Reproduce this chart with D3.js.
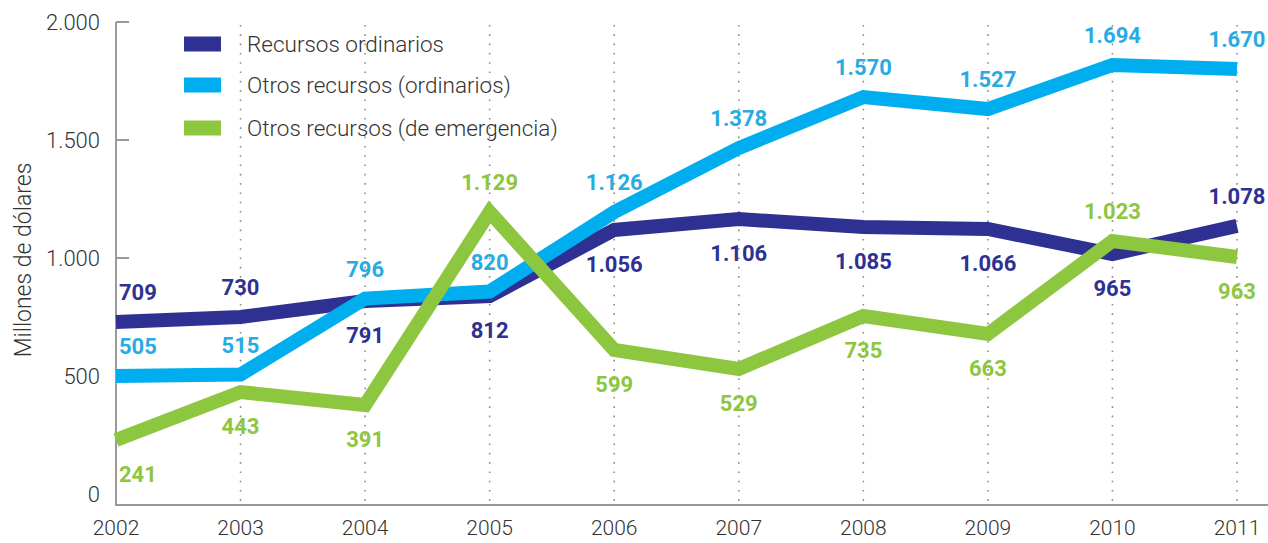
<!DOCTYPE html>
<html>
<head>
<meta charset="utf-8">
<script src="https://cdn.jsdelivr.net/npm/d3@7"></script>
<style>
  body { margin: 0; background: #fff; }
  svg { display: block; font-family: Roboto, "Noto Sans", sans-serif; }
</style>
</head>
<body>
<script>
// years on the x axis
var years = [2002, 2003, 2004, 2005, 2006, 2007, 2008, 2009, 2010, 2011];
var yTicks = [0, 500, 1000, 1500, 2000];

// printed values (labels)
var ordinarios = [709, 730, 791, 812, 1056, 1106, 1085, 1066, 965, 1078];
var otrosOrdinarios = [505, 515, 796, 820, 1126, 1378, 1570, 1527, 1694, 1670];
var otrosEmergencia = [241, 443, 391, 1129, 599, 529, 735, 663, 1023, 963];

// values as the lines are drawn in the picture (they don't follow the labels exactly)
var ordinariosLine = [729, 750, 818, 839, 1119, 1165, 1131, 1123, 1017, 1136];
var otrosOrdinariosLine = [500, 506, 828, 858, 1195, 1466, 1682, 1631, 1818, 1801];
var otrosEmergenciaLine = [229, 432, 377, 1195, 610, 530, 754, 678, 1072, 1004];

// which side of the line each label sits on
var ordinariosSide = ["up", "up", "down", "down", "down", "down", "down", "down", "down", "up"];
var otrosOrdinariosSide = ["up", "up", "up", "up", "up", "up", "up", "up", "up", "up"];
var otrosEmergenciaSide = ["down", "down", "down", "up", "down", "down", "down", "down", "up", "down"];

var seriesNames = ["Recursos ordinarios", "Otros recursos (ordinarios)", "Otros recursos (de emergencia)"];

var width = 1268,
    height = 543;

var series = [
    { name: seriesNames[0], line: ordinariosLine, labels: ordinarios, side: ordinariosSide, color: "#2e3192", text: "#2e3192" },
    { name: seriesNames[1], line: otrosOrdinariosLine, labels: otrosOrdinarios, side: otrosOrdinariosSide, color: "#00aeef", text: "#29abe2" },
    { name: seriesNames[2], line: otrosEmergenciaLine, labels: otrosEmergencia, side: otrosEmergenciaSide, color: "#8dc63f", text: "#8dc63f" }
];

var svg = d3.select("body")
    .append("svg")
    .attr("width", width)
    .attr("height", height);

var x = d3.scaleLinear()
    .domain([2002, 2011])
    .range([116, 1237]);

var y = d3.scaleLinear()
    .domain([0, 2000])
    .range([494, 22]);

var fmt = function (v) {
    return d3.format(",")(v).replace(/,/g, ".");
};

// dotted vertical grid
svg.append("g")
    .selectAll("line")
    .data(years.slice(1))
    .enter().append("line")
    .attr("x1", function (d) { return x(d); })
    .attr("x2", function (d) { return x(d); })
    .attr("y1", 25)
    .attr("y2", 505)
    .attr("stroke", "#8c8c8c")
    .attr("stroke-width", 1.6)
    .attr("stroke-dasharray", "1.6,7.7");

// y axis
svg.append("line")
    .attr("x1", 116).attr("x2", 116)
    .attr("y1", y(2000)).attr("y2", 506)
    .attr("stroke", "#9a9a9a")
    .attr("stroke-width", 2);

svg.append("g")
    .selectAll("line")
    .data(yTicks.filter(function (d) { return d > 0; }))
    .enter().append("line")
    .attr("x1", 116).attr("x2", 129)
    .attr("y1", function (d) { return y(d); })
    .attr("y2", function (d) { return y(d); })
    .attr("stroke", "#9a9a9a")
    .attr("stroke-width", 2);

svg.append("g")
    .selectAll("text")
    .data(yTicks)
    .enter().append("text")
    .attr("x", 100)
    .attr("y", function (d) { return y(d) + 8; })
    .attr("text-anchor", "end")
    .attr("font-size", 22)
    .attr("font-weight", 300)
    .attr("fill", "#333")
    .text(fmt);

svg.append("text")
    .attr("transform", "translate(31,260) rotate(-90)")
    .attr("text-anchor", "middle")
    .attr("font-size", 23)
    .attr("font-weight", 300)
    .attr("fill", "#333")
    .text("Millones de dólares");

// x axis
svg.append("line")
    .attr("x1", 116).attr("x2", width)
    .attr("y1", 505).attr("y2", 505)
    .attr("stroke", "#9a9a9a")
    .attr("stroke-width", 2);

svg.append("g")
    .selectAll("text")
    .data(years)
    .enter().append("text")
    .attr("x", function (d) { return x(d); })
    .attr("y", 535)
    .attr("text-anchor", "middle")
    .attr("font-size", 21)
    .attr("font-weight", 300)
    .attr("fill", "#333")
    .text(function (d) { return d; });

// lines
var line = d3.line()
    .x(function (d, i) { return x(years[i]); })
    .y(function (d) { return y(d); });

svg.append("g")
    .selectAll("path")
    .data(series)
    .enter().append("path")
    .attr("d", function (s) { return line(s.line); })
    .attr("fill", "none")
    .attr("stroke", function (s) { return s.color; })
    .attr("stroke-width", 14)
    .attr("stroke-linejoin", "miter")
    .attr("stroke-linecap", "butt");

// value labels
series.forEach(function (s) {
    svg.append("g")
        .selectAll("text")
        .data(s.labels)
        .enter().append("text")
        .attr("x", function (d, i) { return i === 0 ? 119 : x(years[i]); })
        .attr("y", function (d, i) {
            var off = s.side[i] === "up" ? -30 : 34;
            return y(s.line[i]) + off + 8;
        })
        .attr("text-anchor", function (d, i) { return i === 0 ? "start" : "middle"; })
        .attr("font-size", 22)
        .attr("font-weight", 700)
        .attr("fill", s.text)
        .text(fmt);
});

// legend
var legend = svg.append("g")
    .selectAll("g")
    .data(series)
    .enter().append("g")
    .attr("transform", function (d, i) { return "translate(184," + [44, 85, 128][i] + ")"; });

legend.append("rect")
    .attr("x", 0)
    .attr("y", -7.5)
    .attr("width", 37)
    .attr("height", 15)
    .attr("fill", function (d) { return d.color; });

legend.append("text")
    .attr("x", 63)
    .attr("y", 8)
    .attr("font-size", 22.5)
    .attr("font-weight", 300)
    .attr("fill", "#333")
    .text(function (d) { return d.name; });
</script>
</body>
</html>
